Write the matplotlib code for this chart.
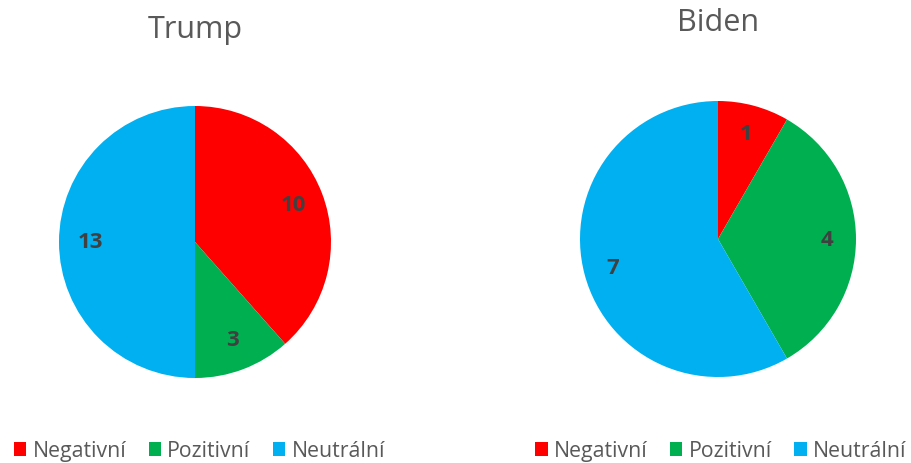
import matplotlib.pyplot as plt

# hodnocení zmínek podle kandidáta
categories = ["Negativní", "Pozitivní", "Neutrální"]
trump_values = [10, 3, 13]
biden_values = [1, 4, 7]
colors = ["#FF0000", "#00B050", "#00B0F0"]

plt.rcParams["font.family"] = ["Open Sans", "DejaVu Sans"]

W, H = 912, 464
fig = plt.figure(figsize=(W / 100, H / 100), dpi=100)


def draw_pie(cx, cy, r, values, title, title_y, dist):
    ax = fig.add_axes([(cx - r) / W, 1 - (cy + r) / H, 2 * r / W, 2 * r / H])
    total = sum(values)
    wedges, _, texts = ax.pie(
        values, colors=colors, startangle=90, counterclock=False,
        autopct=lambda p: f"{round(p * total / 100):d}", pctdistance=dist,
        textprops=dict(color="#404040", fontsize=16, fontweight="bold"),
        wedgeprops=dict(linewidth=0),
    )
    ax.set_xlim(-1, 1)
    ax.set_ylim(-1, 1)
    ax.set_aspect("equal")
    fig.text(cx / W, 1 - title_y / H, title, ha="center", va="center",
             fontsize=22, color="#595959")
    return wedges


w1 = draw_pie(195, 243, 136, trump_values, "Trump", 30, 0.77)
w2 = draw_pie(718, 240, 138, biden_values, "Biden", 23, 0.79)

for wedges, x in [(w1, 199.5 / W), (w2, 721 / W)]:
    fig.legend(wedges, categories, loc="center", bbox_to_anchor=(x, 1 - 452 / H),
               ncol=3, frameon=False, fontsize=15.3, labelcolor="#595959",
               handlelength=0.58, handleheight=0.58, handletextpad=0.3,
               columnspacing=1.05)

fig.savefig("out.png", dpi=100)
